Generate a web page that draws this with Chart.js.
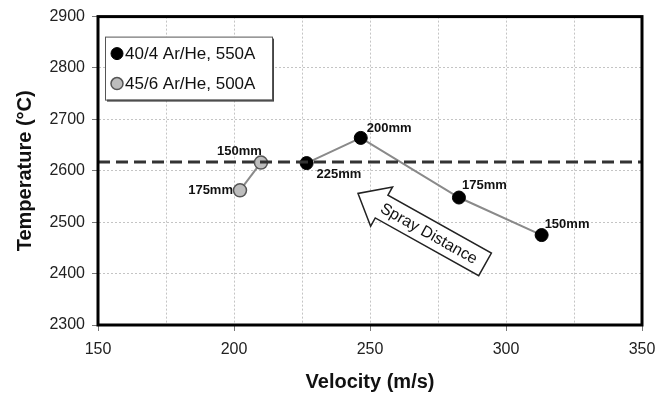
<!DOCTYPE html>
<html>
<head>
<meta charset="utf-8">
<script src="https://cdn.jsdelivr.net/npm/chart.js@4/dist/chart.umd.min.js"></script>
<style>
  html, body { margin: 0; padding: 0; background: #fff; }
  #wrap { width: 666px; height: 396px; }
</style>
</head>
<body>
<div id="wrap"><canvas id="chart" width="666" height="396"></canvas></div>
<script>
// Dados
const series1Label = '40/4 Ar/He, 550A';
const velocity1 = [226.7, 246.6, 282.7, 313.1];
const temp1 = [2615, 2664, 2548, 2475];
const distance1 = ['225mm', '200mm', '175mm', '150mm'];

const series2Label = '45/6 Ar/He, 500A';
const velocity2 = [202.2, 209.9];
const temp2 = [2562, 2616];
const distance2 = ['175mm', '150mm'];

const referenceTemp = 2617;
const xRange = [150, 350];
const yRange = [2300, 2900];

const arrowText = 'Spray Distance';
const arrowTail = { x: 292.3, y: 2418 };
const arrowTip = { x: 245.6, y: 2556 };

// posição dos rótulos (dx, dy, alinhamento) - só estilo
const labelPlace1 = [[10, 11, 'left'], [6, -9, 'left'], [3, -12, 'left'], [3, -11, 'left']];
const labelPlace2 = [[-7, 0, 'right'], [1, -11, 'right']];

const FONT = "'Liberation Sans', Arial, sans-serif";

const toPoints = (xs, ys) => xs.map((x, i) => ({ x: x, y: ys[i] }));

const frameBorder = {
    id: 'frameBorder',
    afterDraw(chart) {
        const { ctx, chartArea: a } = chart;
        ctx.save();
        ctx.strokeStyle = '#000';
        ctx.lineWidth = 3;
        ctx.strokeRect(a.left, a.top, a.right - a.left, a.bottom - a.top);
        ctx.restore();
    }
};

const pointLabels = {
    id: 'pointLabels',
    afterDatasetsDraw(chart) {
        const ctx = chart.ctx;
        ctx.save();
        ctx.font = 'bold 13px ' + FONT;
        ctx.fillStyle = '#111';
        ctx.textBaseline = 'middle';
        chart.data.datasets.forEach((ds, di) => {
            if (!ds.pointText) return;
            const meta = chart.getDatasetMeta(di);
            meta.data.forEach((pt, i) => {
                const p = ds.pointPlace[i];
                ctx.textAlign = p[2];
                ctx.fillText(ds.pointText[i], pt.x + p[0], pt.y + p[1]);
            });
        });
        ctx.restore();
    }
};

const sprayArrow = {
    id: 'sprayArrow',
    afterDatasetsDraw(chart) {
        const { ctx, scales } = chart;
        const tx = scales.x.getPixelForValue(arrowTip.x), ty = scales.y.getPixelForValue(arrowTip.y);
        const bx = scales.x.getPixelForValue(arrowTail.x), by = scales.y.getPixelForValue(arrowTail.y);
        const len = Math.hypot(bx - tx, by - ty);
        const ux = (bx - tx) / len, uy = (by - ty) / len;   // da ponta para a cauda
        const nx = -uy, ny = ux;
        const headLen = 27, headW = 22.5, shaftW = 13;
        const hx = tx + ux * headLen, hy = ty + uy * headLen;
        ctx.save();
        ctx.beginPath();
        ctx.moveTo(tx, ty);
        ctx.lineTo(hx + nx * headW, hy + ny * headW);
        ctx.lineTo(hx + nx * shaftW, hy + ny * shaftW);
        ctx.lineTo(bx + nx * shaftW, by + ny * shaftW);
        ctx.lineTo(bx - nx * shaftW, by - ny * shaftW);
        ctx.lineTo(hx - nx * shaftW, hy - ny * shaftW);
        ctx.lineTo(hx - nx * headW, hy - ny * headW);
        ctx.closePath();
        ctx.fillStyle = '#fff';
        ctx.fill();
        ctx.strokeStyle = '#222';
        ctx.lineWidth = 1.5;
        ctx.stroke();
        const cx = tx + ux * len * 0.56, cy = ty + uy * len * 0.56;
        ctx.translate(cx, cy);
        ctx.rotate(Math.atan2(uy, ux));
        ctx.font = '16px ' + FONT;
        ctx.fillStyle = '#111';
        ctx.textAlign = 'center';
        ctx.textBaseline = 'middle';
        ctx.fillText(arrowText, 0, 1);
        ctx.restore();
    }
};

const boxLegend = {
    id: 'boxLegend',
    afterDraw(chart) {
        const { ctx, chartArea: a } = chart;
        const items = chart.data.datasets.filter(ds => ds.inLegend);
        const x = a.left + 7, y = a.top + 20, w = 167, h = 63;
        ctx.save();
        ctx.fillStyle = '#444';
        ctx.fillRect(x + 2, y + 2, w, h);
        ctx.fillStyle = '#fff';
        ctx.fillRect(x, y, w, h);
        ctx.strokeStyle = '#555';
        ctx.lineWidth = 1;
        ctx.strokeRect(x + 0.5, y + 0.5, w, h);
        ctx.font = '17px ' + FONT;
        ctx.textBaseline = 'middle';
        ctx.textAlign = 'left';
        items.forEach((ds, i) => {
            const cy = y + 17 + i * 30;
            ctx.beginPath();
            ctx.arc(x + 12, cy, 6, 0, Math.PI * 2);
            ctx.fillStyle = ds.pointBackgroundColor;
            ctx.fill();
            ctx.strokeStyle = ds.pointBorderColor;
            ctx.lineWidth = ds.pointBorderWidth;
            ctx.stroke();
            ctx.fillStyle = '#111';
            ctx.fillText(ds.label, x + 20, cy + 1);
        });
        ctx.restore();
    }
};

new Chart(document.getElementById('chart').getContext('2d'), {
    type: 'line',
    data: {
        datasets: [
            {
                label: 'ref',
                data: [{ x: xRange[0], y: referenceTemp }, { x: xRange[1], y: referenceTemp }],
                borderColor: '#333',
                borderWidth: 3,
                borderDash: [12, 6],
                pointRadius: 0,
                order: 0
            },
            {
                label: series1Label,
                inLegend: true,
                data: toPoints(velocity1, temp1),
                pointText: distance1,
                pointPlace: labelPlace1,
                borderColor: '#8a8a8a',
                borderWidth: 2,
                pointRadius: 6.5,
                pointBackgroundColor: '#000',
                pointBorderColor: '#000',
                pointBorderWidth: 1,
                order: 1
            },
            {
                label: series2Label,
                inLegend: true,
                data: toPoints(velocity2, temp2),
                pointText: distance2,
                pointPlace: labelPlace2,
                borderColor: '#8a8a8a',
                borderWidth: 2,
                pointRadius: 6.5,
                pointBackgroundColor: '#bdbdbd',
                pointBorderColor: '#555',
                pointBorderWidth: 1.5,
                order: 2
            }
        ]
    },
    options: {
        responsive: false,
        animation: false,
        layout: { padding: { top: 16, right: 24, left: 0, bottom: 0 } },
        plugins: {
            legend: { display: false },
            tooltip: { enabled: false }
        },
        scales: {
            x: {
                type: 'linear',
                min: xRange[0],
                max: xRange[1],
                afterFit: s => { s.height = 71; },
                grid: {
                    color: '#c4c4c4',
                    tickColor: ctx => (ctx.tick && ctx.tick.value % 50 === 0) ? '#777' : 'rgba(0,0,0,0)',
                    tickLength: 6,
                    drawTicks: true
                },
                border: { display: true, color: 'rgba(0,0,0,0)', dash: [2, 2] },
                ticks: {
                    stepSize: 25,
                    padding: 9,
                    color: '#222',
                    font: { family: FONT, size: 16 },
                    callback: v => (v % 50 === 0 ? String(v) : '')
                },
                title: {
                    display: true,
                    text: 'Velocity (m/s)',
                    color: '#111',
                    font: { family: FONT, size: 20, weight: 'bold' },
                    padding: { top: 0, bottom: 2 }
                }
            },
            y: {
                type: 'linear',
                min: yRange[0],
                max: yRange[1],
                afterFit: s => { s.width = 98; },
                grid: {
                    color: '#c4c4c4',
                    tickColor: '#777',
                    tickLength: 6
                },
                border: { display: true, color: 'rgba(0,0,0,0)', dash: [2, 2] },
                ticks: {
                    stepSize: 100,
                    padding: 7,
                    color: '#222',
                    font: { family: FONT, size: 16 },
                    callback: v => String(v)
                },
                title: {
                    display: true,
                    text: 'Temperature (°C)',
                    color: '#111',
                    font: { family: FONT, size: 20, weight: 'bold' },
                    padding: { top: 13, bottom: 0 }
                }
            }
        }
    },
    plugins: [pointLabels, sprayArrow, boxLegend, frameBorder]
});
</script>
</body>
</html>
